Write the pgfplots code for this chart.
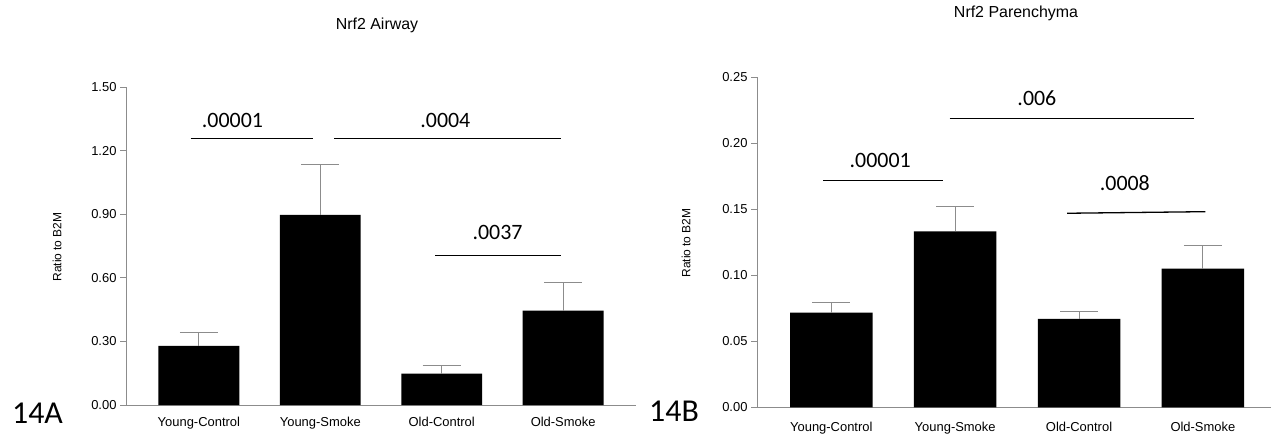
\documentclass[border=0pt]{standalone}
\usepackage{fontspec}
\setmainfont{Liberation Sans}
\newfontfamily\calib{Carlito}
\usepackage{pgfplots}
\pgfplotsset{compat=1.18}
\definecolor{axgray}{RGB}{140,140,140}
\pgfplotsset{nrf/.style={
  scale only axis, clip=false,
  axis lines=left, axis line style={axgray, line width=0.8bp, -},
  xmin=-0.6, ymin=0,
  xtick={0,1,2,3}, xticklabels={Young-Control,Young-Smoke,Old-Control,Old-Smoke},
  x tick style={draw=none}, ytick pos=left,
  y tick style={axgray, line width=0.8bp}, tick align=outside, major tick length=6bp,
  ticklabel style={font=\fontsize{13}{15}\selectfont},
  /pgf/number format/assume math mode=true,
  yticklabel style={/pgf/number format/.cd, fixed, fixed zerofill, precision=2},
}}
\pgfplotsset{sigline/.style={black, line width=1.3bp, no marks}}
\pgfplotsset{barst/.style={ybar, bar width=0.666, fill=black, draw=none,
  error bars/.cd, y dir=plus, y explicit, error mark=|,
  error bar style={axgray, line width=0.8bp},
  error mark options={axgray, mark size=19bp, line width=0.8bp}}}
\begin{document}
\begin{tikzpicture}
\useasboundingbox (0,0) rectangle (1271bp,434bp);
% Left panel
\begin{axis}[nrf, at={(126bp,29bp)}, anchor=south west, width=510bp, height=318bp,
  xmax=3.6, ymax=1.5, ytick={0,0.3,0.6,0.9,1.2,1.5},
  xticklabel style={yshift=-3bp}]
\addplot[barst] coordinates {
  (0,0.279) +- (0,0.063)
  (1,0.897) +- (0,0.236)
  (2,0.148) +- (0,0.038)
  (3,0.445) +- (0,0.131)
};
\addplot[sigline] coordinates {(-0.068,1.256) (0.939,1.256)};
\addplot[sigline] coordinates {(1.113,1.256) (2.986,1.256)};
\addplot[sigline] coordinates {(1.945,0.705) (2.986,0.705)};
\node[font=\calib\fontsize{22}{25}\selectfont] at (axis cs:0.277,1.34) {.00001};
\node[font=\calib\fontsize{22}{25}\selectfont] at (axis cs:2.03,1.34) {.0004};
\node[font=\calib\fontsize{22}{25}\selectfont] at (axis cs:2.46,0.813) {.0037};
\end{axis}
% Right panel
\begin{axis}[nrf, at={(757bp,26.7bp)}, anchor=south west, width=514bp, height=330bp,
  xmax=3.55, ymax=0.25, ytick={0,0.05,0.1,0.15,0.2,0.25},
  xticklabel style={yshift=-5bp}]
\addplot[barst] coordinates {
  (0,0.0717) +- (0,0.0076)
  (1,0.1333) +- (0,0.0187)
  (2,0.0669) +- (0,0.0056)
  (3,0.1050) +- (0,0.0177)
};
\addplot[sigline] coordinates {(-0.065,0.1717) (0.903,0.1717)};
\addplot[sigline] coordinates {(0.956,0.219) (2.93,0.219)};
\addplot[sigline] coordinates {(1.903,0.147) (3.02,0.1482)};
\node[font=\calib\fontsize{22}{25}\selectfont] at (axis cs:0.395,0.187) {.00001};
\node[font=\calib\fontsize{22}{25}\selectfont] at (axis cs:1.66,0.234) {.006};
\node[font=\calib\fontsize{22}{25}\selectfont] at (axis cs:2.37,0.170) {.0008};
\end{axis}
% Titles, axis labels, panel tags
\node[font=\fontsize{16}{18}\selectfont] at (377bp,409bp) {Nrf2 Airway};
\node[font=\fontsize{16}{18}\selectfont] at (1016bp,420.7bp) {Nrf2 Parenchyma};
\node[rotate=90, font=\fontsize{12}{14}\selectfont] at (57bp,187bp) {Ratio to B2M};
\node[rotate=90, font=\fontsize{12}{14}\selectfont] at (686bp,191bp) {Ratio to B2M};
\node[font=\calib\fontsize{32}{36}\selectfont] at (37.5bp,20.5bp) {14A};
\node[font=\calib\fontsize{32}{36}\selectfont] at (674bp,22.5bp) {14B};
\end{tikzpicture}
\end{document}
